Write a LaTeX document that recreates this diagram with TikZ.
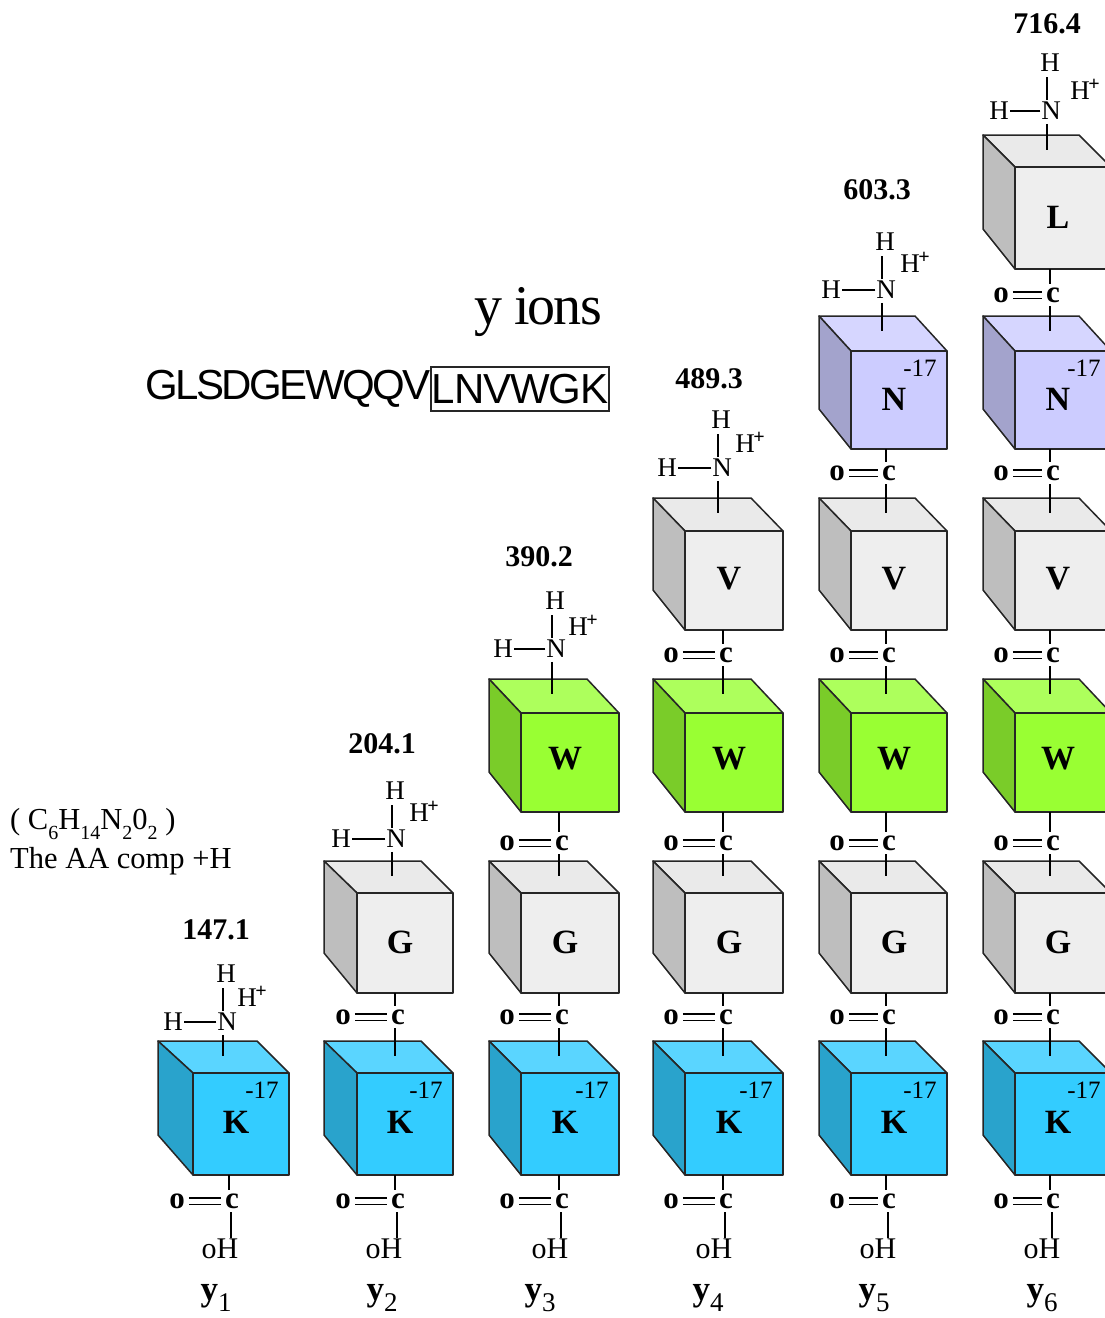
\documentclass[tikz,border=0pt]{standalone}
\usepackage{fontspec}
\setmainfont{Liberation Serif}
\setsansfont{Liberation Sans}
\usetikzlibrary{calc}
\definecolor{LysFront}{HTML}{33CCFF}
\definecolor{LysTop}{HTML}{5AD5FF}
\definecolor{LysSide}{HTML}{29A3CC}
\definecolor{PlainFront}{HTML}{EEEEEE}
\definecolor{PlainTop}{HTML}{EAEAEA}
\definecolor{PlainSide}{HTML}{BEBEBE}
\definecolor{TrpFront}{HTML}{99FF33}
\definecolor{TrpTop}{HTML}{ADFF5C}
\definecolor{TrpSide}{HTML}{7ACC29}
\definecolor{AsnFront}{HTML}{CCCCFF}
\definecolor{AsnTop}{HTML}{D6D6FF}
\definecolor{AsnSide}{HTML}{A3A3CC}
\newcommand{\fsize}[1]{\fontsize{#1}{#1}\selectfont}
\newcommand{\lowered}[2]{\raisebox{-.3em}{\fsize{#1}#2}}
\newcommand{\hplus}{H\kern-1.5pt\raisebox{.33em}{\fsize{20}\bfseries +}}
\tikzset{
  atom/.style={font=\fsize{27},inner sep=0pt,outer sep=1pt},
  carbon/.style={font=\fsize{31}\bfseries,inner sep=0pt,outer sep=4pt},
  bond/.style={line width=1.2pt},
  dblbond/.style={line width=1.1pt,double,double distance=5pt,yshift=-1pt},
  mass/.style={font=\fsize{30}\bfseries,inner sep=0pt},
  residue/.style={font=\fsize{34}\bfseries,inner sep=0pt},
  loss/.style={font=\fsize{25},inner sep=0pt},
  ionlabel/.style={font=\fsize{35},inner sep=0pt},
  compo/.style={font=\fsize{30.5},inner sep=0pt,anchor=west},
  face/.style={draw=black!85,line width=1.5pt,line join=round},
}
\begin{document}
\begin{tikzpicture}[x=1pt,y=-1pt]
  \useasboundingbox (0,0) rectangle (1105,1318);
  \foreach \col/\xb/\xf/\xr/\xc/\xo/\xh/\xn/\yn/\xp/\yp/\xm/\ym/\Mass/\xoh/\xy in {
    1/158/193/289/232/177/173/227/1022/252/996/216/930/147.1/220/216,
    2/324/357/453/398/343/341/396/839/424/811/382/744/204.1/384/382,
    3/489/521/619/562/507/503/556/649/583/625/539/557/390.2/550/540,
    4/653/685/783/726/671/667/722/468/750/442/709/379/489.3/714/708,
    5/819/851/947/889/837/831/886/290/915/262/877/190/603.3/878/874,
    6/983/1015/1111/1053/1001/999/1051/111/1085/89/1047/24/716.4/1042/1042} {
    \foreach \row/\yt/\yf/\ybt/\yc/\yres/\Res/\Sch/\Mark in {
      1/1041/1073/1175/1201/1122/K/Lys/-17,
      2/861/893/993/1017/942/G/Plain/,
      3/679/713/812/843/759/W/Trp/,
      4/498/531/630/655/579/V/Plain/,
      5/316/351/449/473/399/N/Asn/-17,
      6/135/167/269/295/217/L/Plain/} {
      \ifnum\row>\col\else
        % cube with its letter
        \filldraw[face,fill=\Sch Top] (\xb,\yt) -- (\xr-32,\yt) -- (\xr,\yf) -- (\xf,\yf) -- cycle;
        \filldraw[face,fill=\Sch Side] (\xb,\yt) -- (\xf,\yf) -- (\xf,\ybt) -- (\xb,\ybt-40) -- cycle;
        \filldraw[face,fill=\Sch Front] (\xf,\yf) rectangle (\xr,\ybt);
        \coordinate (south\col\row) at (\xf,\ybt);
        \coordinate (seat\col\row) at (\xf,\yt+15);
        \node[residue] (res\col\row) at ({(\xf+\xr)/2-5},\yres) {\Res};
        \node[loss] (loss\col\row) at (\xr-27,\yf+17) {\Mark};
        % carbonyl under the cube
        \node[carbon] (c\col\row) at (\xc,\yc) {c};
        \node[carbon] (o\col\row) at (\xo,\yc) {o};
        \draw[dblbond] (o\col\row) -- (c\col\row);
        \draw[bond] ([xshift=-3pt]c\col\row.north) -- ([xshift=-3pt]c\col\row.north |- south\col\row);
        \ifnum\row>1
          \pgfmathtruncatemacro{\below}{\row-1}
          \draw[bond] ([xshift=-3pt]c\col\row.south) -- ([xshift=-3pt]c\col\row.south |- seat\col\below);
        \fi
        \ifnum\row=\col
          \node[atom] (n\col) at (\xn,\yn) {N};
          \node[atom] (ha\col) at (\xn-1,\yn-48) {H};
          \node[atom] (hb\col) at (\xh,\yn) {H};
          \node[atom] (hc\col) at (\xp,\yp) {\hplus};
          \node[mass] (mass\col) at (\xm,\ym) {\Mass};
          \draw[bond] (n\col.west) -- (hb\col.east);
          \draw[bond] ([xshift=-4pt,yshift=1pt]n\col.north) -- ([xshift=-3pt,yshift=-4pt]ha\col.south);
          \draw[bond] ([xshift=-4pt,yshift=-3pt]n\col.south) -- ([xshift=-4pt]n\col.south |- seat\col\row);
        \fi
      \fi
    }
    % tail of each column
    \node[atom,font=\fsize{30}] (oh\col) at (\xoh,1249) {oH};
    \node[ionlabel] (y\col) at (\xy,1298) {{\bfseries y}\lowered{27}{\col}};
    \draw[bond] ([xshift=-1pt]c\col1.south) -- ([xshift=-1pt]c\col1.south |- oh\col.north);
  }
  \node[inner sep=0pt,font=\fsize{56}\addfontfeatures{LetterSpace=-3.5}] (title) at (538,312) {y ions};
  \node[draw=black!85,line width=1.2pt,inner sep=0pt,minimum width=178pt,minimum height=44pt,font=\sffamily\fsize{42}\addfontfeatures{LetterSpace=-2.8}] (seqtail) at (520,389) {LNVWGK};
  \node[inner sep=0pt,anchor=east,font=\sffamily\fsize{42}\addfontfeatures{LetterSpace=-6.2}] (seqhead) at (seqtail.west) {GLSDGEWQQV};
  \node[compo] (formula) at (10,824) {( C\lowered{20}{6}H\lowered{20}{14}N\lowered{20}{2}0\lowered{20}{2} )};
  \node[compo] (comp) at (10,861) {The AA comp +H};
\end{tikzpicture}
\end{document}
